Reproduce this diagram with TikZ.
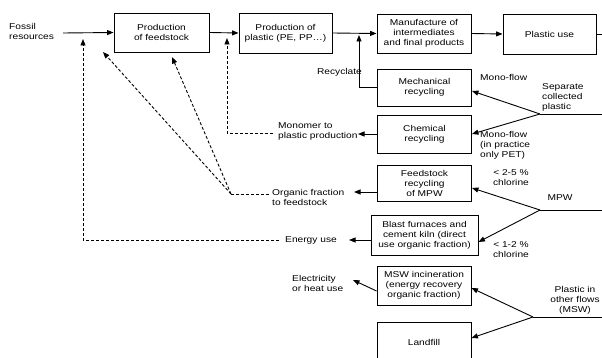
\documentclass[tikz,border=0pt]{standalone}
\usepackage{fontspec}
\setmainfont{Liberation Sans}[FakeStretch=1.2]
\usetikzlibrary{arrows.meta}
\begin{document}
\begin{tikzpicture}[x=1pt,y=-1pt,
  font=\fontsize{8.5}{10}\selectfont,
  box/.style={draw,line width=0.9pt,align=center,inner sep=0pt,minimum width=94pt,minimum height=38pt},
  lbl/.style={inner sep=0pt,align=left,anchor=west},
  clbl/.style={inner sep=0pt,align=center},
  arr/.style={line width=0.9pt,-{Triangle[length=6.5pt,width=5pt]}},
  ln/.style={line width=0.9pt},
  dasharr/.style={line width=0.9pt,dash pattern=on 3pt off 2pt,-{Triangle[length=6.5pt,width=5pt]}},
  dln/.style={line width=0.9pt,dash pattern=on 3pt off 2pt}]
\useasboundingbox (0,0) rectangle (602,358);
\clip (0,0) rectangle (602,358);
% boxes
\node[box,minimum width=95pt,minimum height=39pt] (feed) at (161.5,32.5) {Production\\of feedstock};
\node[box,minimum width=93pt,minimum height=40pt] (plast) at (285.5,33) {Production of\\plastic (PE, PP…)};
\node[box,minimum height=39pt] (manu) at (424,33.5) {Manufacture of\\intermediates\\and final products};
\node[box,minimum width=93pt,minimum height=40pt] (use) at (549.5,34) {Plastic use};
\node[box,minimum height=37pt] (mech) at (424.5,87.5) {Mechanical\\recycling};
\node[box] (chem) at (424.5,134) {Chemical\\recycling};
\node[box,minimum height=36pt] (fsr) at (424.5,183) {Feedstock\\recycling\\of MPW};
\node[box,minimum width=107pt,minimum height=40pt] (blast) at (424.5,235) {Blast furnaces and\\cement kiln (direct\\use organic fraction)};
\node[box,minimum height=39pt] (msw) at (424,285.5) {MSW incineration\\(energy recovery\\organic fraction)};
\node[box,minimum height=40pt] (land) at (424,342) {Landfill};
% labels
\node[lbl] (fossil) at (9,31.5) {Fossil\\resources};
\node[inner sep=0pt,anchor=east] (recy) at (362,72) {Recyclate};
\node[lbl] (mono1) at (480,77) {Mono-flow};
\node[lbl] (sep) at (542,97) {Separate\\collected\\plastic};
\node[lbl] (mono) at (278,131.5) {Monomer to\\plastic production};
\node[lbl] (mono2) at (480,145) {Mono-flow\\(in practice\\only PET)};
\node[clbl] (cl1) at (511,178) {< 2-5 \%\\chlorine};
\node[lbl] (org) at (272,197.5) {Organic fraction\\to feedstock};
\node[clbl] (mpw) at (560,198) {MPW};
\node[lbl] (energy) at (285,240) {Energy use};
\node[clbl] (cl2) at (511,249.5) {< 1-2 \%\\chlorine};
\node[lbl] (elec) at (292,283) {Electricity\\or heat use};
\node[clbl] (other) at (575,300) {Plastic in\\other flows\\(MSW)};
% coordinates
\coordinate (f0) at (63,33);
\coordinate (r0) at (602,34);
\coordinate (rc) at (359,35);
\coordinate (sj) at (540,114);
\coordinate (sr) at (602,114);
\coordinate (mj) at (540,210);
\coordinate (mr) at (602,210);
\coordinate (pj) at (533,317);
\coordinate (pr) at (602,317);
\coordinate (t1) at (358,134);
\coordinate (t2) at (354,192);
\coordinate (t3) at (349,240);
\coordinate (t4) at (353,280);
\coordinate (m1) at (227,38);
\coordinate (oj) at (231,194);
\coordinate (o1) at (103,52);
\coordinate (o2) at (172,57);
\coordinate (e1) at (83,39);
% main flow
\draw[arr] (f0) -- (feed.west);
\draw[arr] (feed.east) -- (plast.west);
\draw[arr] (plast.east) -- (manu.west);
\draw[arr] (manu.east) -- (use.west);
\draw[ln] (use.east) -- (r0);
% recyclate
\draw[arr] (mech.west) -| (rc);
% separate collected
\draw[ln] (sr) -- (sj);
\draw[arr] (sj) -- ([yshift=-3.5pt]mech.east);
\draw[arr] (sj) -- (chem.east);
% MPW
\draw[ln] (mr) -- (mj);
\draw[arr] (mj) -- ([yshift=-5pt]fsr.east);
\draw[arr] (mj) -- ([yshift=-7pt]blast.east);
% other flows
\draw[ln] (pr) -- (pj);
\draw[arr] (pj) -- ([yshift=-2.5pt]msw.east);
\draw[arr] (pj) -- ([yshift=4pt]land.east);
% outputs
\draw[arr] (chem.west) -- (t1);
\draw[arr] ([yshift=-9pt]fsr.west) -- (t2);
\draw[arr] ([yshift=-5pt]blast.west) -- (t3);
\draw[arr] ([yshift=-5.5pt]msw.west) -- (t4);
% dashed returns
\draw[dasharr] ([xshift=-5pt,yshift=-1.5pt]mono.west) -| (m1);
\draw[dln] ([xshift=-3pt]org.west |- oj) -- (oj);
\draw[dasharr] (oj) -- (o1);
\draw[dasharr] (oj) -- (o2);
\draw[dasharr] ([xshift=-6pt]energy.west) -| (e1);
\end{tikzpicture}
\end{document}
